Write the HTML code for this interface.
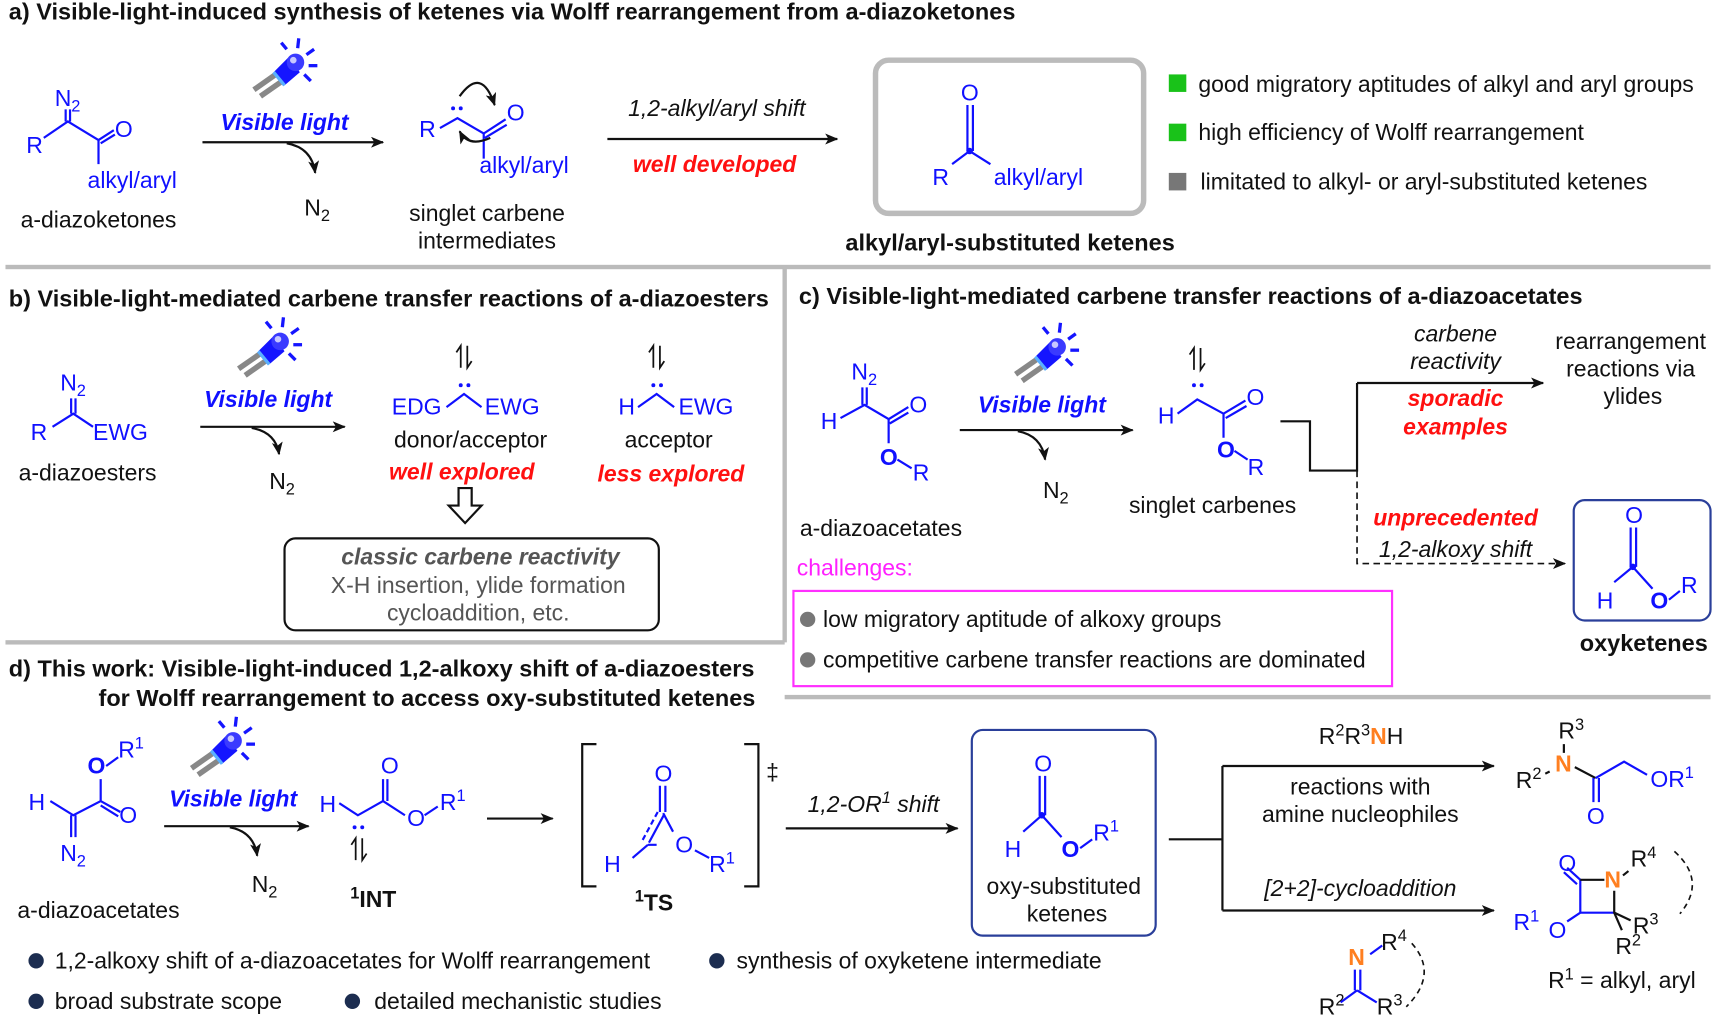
<!DOCTYPE html>
<html><head><meta charset="utf-8"><style>
html,body{margin:0;padding:0;background:#fff}
svg{display:block}
text{font-family:"Liberation Sans",Arial,sans-serif;font-size:21px;fill:#111}
.b{fill:#1010ff}.t{font-weight:bold;font-size:21.5px}
.red{fill:#ff1010;font-weight:bold;font-style:italic}
.vl{fill:#1010ff;font-weight:bold;font-style:italic}
.it{font-style:italic}
.o{fill:#ff7f20}
.bl{stroke:#1010ff;stroke-width:2;fill:none}
.k{stroke:#111;stroke-width:2;fill:none}
</style></head><body>
<svg width="1716" height="1021" viewBox="0 0 1568 933" preserveAspectRatio="none" xmlns="http://www.w3.org/2000/svg">
<defs>
<marker id="ar" viewBox="0 0 12 10" refX="11" refY="5" markerWidth="12" markerHeight="10" markerUnits="userSpaceOnUse" orient="auto"><path d="M0,0 L12,5 L0,10 L3,5z" fill="#111"/></marker>
<g id="lamp">
<line x1="-30" y1="22" x2="-10" y2="8" stroke="#888" stroke-width="5"/>
<line x1="-24" y1="28" x2="-4" y2="14" stroke="#888" stroke-width="5"/>
<path d="M-12,6 L2,-8 L12,6 L-2,18z" fill="#1515ff"/>
<line x1="-12" y1="6" x2="-2" y2="18" stroke="#5ab0ff" stroke-width="3"/>
<circle cx="8" cy="-3" r="8" fill="#3a3aff"/><circle cx="6" cy="-5" r="3" fill="#c8c8ff"/>
<g stroke="#1515ff" stroke-width="3"><line x1="0" y1="-15" x2="-5" y2="-21"/><line x1="10" y1="-16" x2="11" y2="-25"/><line x1="18" y1="-10" x2="25" y2="-15"/><line x1="20" y1="0" x2="28" y2="0"/><line x1="16" y1="8" x2="22" y2="14"/></g>
</g>
<g id="spin" stroke="#111" stroke-width="1.6" fill="none">
<path d="M-3,10 L-3,-10 L-7,-4"/><path d="M3,-10 L3,10 L7,4"/>
</g>
</defs>

<!-- a -->
<text x="8" y="18" class="t">a) Visible-light-induced synthesis of ketenes via Wolff rearrangement from a-diazoketones</text>
<text x="50" y="97" class="b">N<tspan font-size="15" dy="5">2</tspan></text>
<path class="bl" d="M40,126 L62,111 L90,128 L104,119 M60,100 L60,111 M64,100 L64,111 M90,128 L90,150 M92,131 L105,123"/>
<text x="24" y="140" class="b">R</text><text x="105" y="125" class="b">O</text>
<text x="80" y="172" class="b">alkyl/aryl</text>
<text x="90" y="208" text-anchor="middle">a-diazoketones</text>
<use href="#lamp" x="262" y="60"/>
<text x="260" y="119" class="vl" text-anchor="middle">Visible light</text>
<line x1="185" y1="130" x2="350" y2="130" class="k" marker-end="url(#ar)"/>
<path class="k" d="M262,131 Q285,135 288,158" marker-end="url(#ar)"/>
<text x="278" y="197">N<tspan font-size="15" dy="5">2</tspan></text>
<text x="383" y="125" class="b">R</text>
<path class="bl" d="M402,117 L418,108 L442,122 L462,109 M443,126 L463,114 M442,122 L442,145"/>
<circle cx="414" cy="99" r="1.8" fill="#1010ff"/><circle cx="421" cy="99" r="1.8" fill="#1010ff"/>
<text x="463" y="110" class="b">O</text><text x="438" y="158" class="b">alkyl/aryl</text>
<path class="k" d="M420,88 Q440,60 452,96" marker-end="url(#ar)"/>
<path class="k" d="M448,126 Q428,135 420,120" marker-end="url(#ar)"/>
<text x="445" y="202" text-anchor="middle">singlet carbene</text>
<text x="445" y="227" text-anchor="middle">intermediates</text>
<text x="655" y="106" class="it" text-anchor="middle">1,2-alkyl/aryl shift</text>
<line x1="555" y1="127" x2="765" y2="127" class="k" marker-end="url(#ar)"/>
<text x="653" y="157" class="red" text-anchor="middle">well developed</text>
<rect x="800" y="55" width="245" height="140" rx="12" fill="none" stroke="#bbb" stroke-width="5"/>
<text x="878" y="92" class="b">O</text>
<path class="bl" d="M884,96 L884,138 M889,96 L889,138 M886,138 L870,150 M886,138 L905,150"/>
<circle cx="886" cy="138" r="3" fill="#1010ff"/>
<text x="852" y="169" class="b">R</text><text x="908" y="169" class="b">alkyl/aryl</text>
<text x="923" y="229" class="t" text-anchor="middle">alkyl/aryl-substituted ketenes</text>
<rect x="1068" y="68" width="16" height="16" fill="#19c219"/><text x="1095" y="84">good migratory aptitudes of alkyl and aryl groups</text>
<rect x="1068" y="113" width="16" height="16" fill="#19c219"/><text x="1095" y="128">high efficiency of Wolff rearrangement</text>
<rect x="1068" y="158" width="16" height="16" fill="#777"/><text x="1097" y="173">limitated to alkyl- or aryl-substituted ketenes</text>
<rect x="5" y="242" width="1558" height="4" fill="#bbb"/>

<!-- b -->
<rect x="715" y="244" width="4" height="343" fill="#bbb"/>
<rect x="5" y="585" width="712" height="4" fill="#bbb"/>
<text x="8" y="280" class="t">b) Visible-light-mediated carbene transfer reactions of a-diazoesters</text>
<text x="55" y="357" class="b">N<tspan font-size="15" dy="5">2</tspan></text>
<path class="bl" d="M65,364 L65,378 M69,364 L69,378 M48,390 L67,378 L85,390"/>
<text x="28" y="402" class="b">R</text><text x="85" y="402" class="b">EWG</text>
<text x="80" y="439" text-anchor="middle">a-diazoesters</text>
<use href="#lamp" x="248" y="315"/>
<text x="245" y="372" class="vl" text-anchor="middle">Visible light</text>
<line x1="183" y1="390" x2="315" y2="390" class="k" marker-end="url(#ar)"/>
<path class="k" d="M230,391 Q252,395 255,415" marker-end="url(#ar)"/>
<text x="246" y="447">N<tspan font-size="15" dy="5">2</tspan></text>
<use href="#spin" x="424" y="326"/>
<circle cx="421" cy="352" r="1.8" fill="#1010ff"/><circle cx="428" cy="352" r="1.8" fill="#1010ff"/>
<text x="358" y="379" class="b">EDG</text><path class="bl" d="M408,372 L424,360 L440,372"/><text x="443" y="379" class="b">EWG</text>
<text x="430" y="409" text-anchor="middle">donor/acceptor</text>
<text x="422" y="438" class="red" text-anchor="middle">well explored</text>
<use href="#spin" x="600" y="326"/>
<circle cx="597" cy="352" r="1.8" fill="#1010ff"/><circle cx="604" cy="352" r="1.8" fill="#1010ff"/>
<text x="565" y="379" class="b">H</text><path class="bl" d="M583,372 L600,360 L616,372"/><text x="620" y="379" class="b">EWG</text>
<text x="611" y="409" text-anchor="middle">acceptor</text>
<text x="613" y="440" class="red" text-anchor="middle">less explored</text>
<path d="M419,446 L431,446 L431,462 L440,462 L425,478 L410,462 L419,462z" fill="#fff" stroke="#111" stroke-width="2"/>
<rect x="260" y="492" width="342" height="84" rx="10" fill="none" stroke="#111" stroke-width="2"/>
<text x="439" y="516" text-anchor="middle" font-weight="bold" font-style="italic" style="fill:#555">classic carbene reactivity</text>
<text x="437" y="542" text-anchor="middle" style="fill:#555">X-H insertion, ylide formation</text>
<text x="437" y="567" text-anchor="middle" style="fill:#555">cycloaddition, etc.</text>

<!-- c -->
<text x="730" y="278" class="t">c) Visible-light-mediated carbene transfer reactions of a-diazoacetates</text>
<text x="778" y="347" class="b">N<tspan font-size="15" dy="5">2</tspan></text>
<path class="bl" d="M788,354 L788,370 M792,354 L792,370 M768,382 L790,370 L812,383 L830,372 M812,383 L812,405 M813,387 L830,377"/>
<text x="750" y="392" class="b">H</text><text x="831" y="377" class="b">O</text>
<text x="804" y="425" class="b" font-weight="bold">O</text><path class="bl" d="M820,420 L833,428"/><text x="834" y="439" class="b">R</text>
<text x="805" y="490" text-anchor="middle">a-diazoacetates</text>
<use href="#lamp" x="958" y="320"/>
<text x="952" y="377" class="vl" text-anchor="middle">Visible light</text>
<line x1="877" y1="393" x2="1035" y2="393" class="k" marker-end="url(#ar)"/>
<path class="k" d="M930,394 Q952,398 955,420" marker-end="url(#ar)"/>
<text x="953" y="455">N<tspan font-size="15" dy="5">2</tspan></text>
<use href="#spin" x="1094" y="328"/>
<circle cx="1091" cy="352" r="1.8" fill="#1010ff"/><circle cx="1098" cy="352" r="1.8" fill="#1010ff"/>
<text x="1058" y="387" class="b">H</text>
<path class="bl" d="M1076,378 L1094,365 L1118,378 L1138,366 M1118,378 L1118,400 M1120,382 L1139,371"/>
<text x="1139" y="370" class="b">O</text>
<text x="1112" y="418" class="b" font-weight="bold">O</text><path class="bl" d="M1128,412 L1140,420"/><text x="1140" y="434" class="b">R</text>
<text x="1108" y="469" text-anchor="middle">singlet carbenes</text>
<path class="k" d="M1170,385 L1197,385 L1197,430 L1240,430 L1240,350"/>
<line x1="1240" y1="350" x2="1410" y2="350" class="k" marker-end="url(#ar)"/>
<path d="M1240,430 L1240,515 L1430,515" fill="none" stroke="#111" stroke-width="1.5" stroke-dasharray="6,4" marker-end="url(#ar)"/>
<text x="1330" y="312" class="it" text-anchor="middle">carbene</text>
<text x="1330" y="337" class="it" text-anchor="middle">reactivity</text>
<text x="1330" y="371" class="red" text-anchor="middle">sporadic</text>
<text x="1330" y="397" class="red" text-anchor="middle">examples</text>
<text x="1490" y="319" text-anchor="middle">rearrangement</text>
<text x="1490" y="344" text-anchor="middle">reactions via</text>
<text x="1492" y="369" text-anchor="middle">ylides</text>
<text x="1330" y="480" class="red" text-anchor="middle">unprecedented</text>
<text x="1330" y="509" class="it" text-anchor="middle">1,2-alkoxy shift</text>
<rect x="1438" y="457" width="125" height="110" rx="10" fill="none" stroke="#2a3f9a" stroke-width="2"/>
<text x="1485" y="478" class="b">O</text>
<path class="bl" d="M1490,482 L1490,518 M1495,482 L1495,518 M1492,518 L1475,532 M1492,518 L1510,538"/>
<circle cx="1492" cy="518" r="3" fill="#1010ff"/>
<text x="1459" y="556" class="b">H</text><text x="1508" y="556" class="b" font-weight="bold">O</text>
<path class="bl" d="M1525,548 L1535,540"/><text x="1536" y="542" class="b">R</text>
<text x="1502" y="595" text-anchor="middle" class="t">oxyketenes</text>
<text x="728" y="526" style="fill:#ff20ff">challenges:</text>
<rect x="725" y="540" width="547" height="87" fill="none" stroke="#ff30ff" stroke-width="2"/>
<circle cx="738" cy="566" r="7" fill="#777"/><text x="752" y="573">low migratory aptitude of alkoxy groups</text>
<circle cx="738" cy="603" r="7" fill="#777"/><text x="752" y="610">competitive carbene transfer reactions are dominated</text>
<rect x="717" y="635" width="846" height="4" fill="#bbb"/>

<!-- d -->
<text x="8" y="618" class="t">d) This work: Visible-light-induced 1,2-alkoxy shift of a-diazoesters</text>
<text x="90" y="645" class="t">for Wolff rearrangement to access oxy-substituted ketenes</text>
<text x="80" y="707" class="b" font-weight="bold">O</text><path class="bl" d="M97,700 L108,692"/><text x="108" y="692" class="b">R<tspan font-size="15" dy="-8">1</tspan></text>
<path class="bl" d="M46,732 L67,745 L92,732 L92,712 M92,732 L110,742 M92,736 L108,746 M65,745 L65,765 M69,745 L69,765"/>
<text x="26" y="740" class="b">H</text><text x="109" y="752" class="b">O</text>
<text x="55" y="787" class="b">N<tspan font-size="15" dy="5">2</tspan></text>
<text x="90" y="839" text-anchor="middle">a-diazoacetates</text>
<use href="#lamp" x="205" y="680"/>
<text x="213" y="737" class="vl" text-anchor="middle">Visible light</text>
<line x1="150" y1="755" x2="282" y2="755" class="k" marker-end="url(#ar)"/>
<path class="k" d="M210,756 Q232,760 235,782" marker-end="url(#ar)"/>
<text x="230" y="815">N<tspan font-size="15" dy="5">2</tspan></text>
<text x="292" y="742" class="b">H</text>
<path class="bl" d="M310,734 L327,745 L350,732 L350,712 M354,732 L354,712 M350,732 L370,745"/>
<circle cx="324" cy="756" r="1.8" fill="#1010ff"/><circle cx="331" cy="756" r="1.8" fill="#1010ff"/>
<text x="348" y="707" class="b">O</text><text x="372" y="755" class="b">O</text>
<path class="bl" d="M388,745 L400,737"/><text x="402" y="740" class="b">R<tspan font-size="15" dy="-8">1</tspan></text>
<use href="#spin" x="328" y="776"/>
<text x="320" y="829" font-weight="bold"><tspan font-size="15" dy="-8">1</tspan><tspan dy="8">INT</tspan></text>
<line x1="445" y1="748" x2="505" y2="748" class="k" marker-end="url(#ar)"/>
<path class="k" d="M545,680 L532,680 L532,810 L545,810 M680,680 L693,680 L693,810 L680,810"/>
<text x="700" y="713" font-size="16">‡</text>
<text x="598" y="714" class="b">O</text>
<path class="bl" d="M603,718 L603,742 M608,718 L608,742 M606,743 L615,760 M592,772 L600,772 M578,784 L592,772"/>
<path d="M601,742 L587,768" stroke="#1010ff" stroke-width="2" stroke-dasharray="5,3"/>
<path class="bl" d="M607,744 L593,770"/>
<text x="552" y="797" class="b">H</text><text x="617" y="779" class="b">O</text>
<path class="bl" d="M635,777 L648,784"/><text x="648" y="797" class="b">R<tspan font-size="15" dy="-8">1</tspan></text>
<text x="580" y="832" font-weight="bold"><tspan font-size="15" dy="-8">1</tspan><tspan dy="8">TS</tspan></text>
<text x="738" y="742" class="it">1,2-OR<tspan font-size="15" dy="-8">1</tspan><tspan dy="8"> shift</tspan></text>
<line x1="718" y1="757" x2="875" y2="757" class="k" marker-end="url(#ar)"/>
<rect x="888" y="667" width="168" height="188" rx="10" fill="none" stroke="#2a3f9a" stroke-width="2"/>
<text x="945" y="705" class="b">O</text>
<path class="bl" d="M950,709 L950,745 M955,709 L955,745 M952,745 L935,760 M952,745 L970,765"/>
<circle cx="952" cy="745" r="3" fill="#1010ff"/>
<text x="918" y="783" class="b">H</text><text x="970" y="783" class="b" font-weight="bold">O</text>
<path class="bl" d="M987,775 L998,767"/><text x="999" y="768" class="b">R<tspan font-size="15" dy="-8">1</tspan></text>
<text x="972" y="817" text-anchor="middle">oxy-substituted</text>
<text x="975" y="842" text-anchor="middle">ketenes</text>
<path class="k" d="M1068,767 L1117,767 M1117,700 L1117,832"/>
<line x1="1117" y1="700" x2="1365" y2="700" class="k" marker-end="url(#ar)"/>
<line x1="1117" y1="832" x2="1365" y2="832" class="k" marker-end="url(#ar)"/>
<text x="1205" y="680">R<tspan font-size="15" dy="-8">2</tspan><tspan dy="8">R</tspan><tspan font-size="15" dy="-8">3</tspan><tspan dy="8" class="o" font-weight="bold">N</tspan>H</text>
<text x="1243" y="726" text-anchor="middle">reactions with</text>
<text x="1243" y="751" text-anchor="middle">amine nucleophiles</text>
<text x="1243" y="819" class="it" text-anchor="middle">[2+2]-cycloaddition</text>
<text x="1232" y="882" class="o" font-weight="bold">N</text>
<path class="bl" d="M1252,872 L1263,864 M1238,886 L1238,905 M1243,886 L1243,905 M1240,905 L1225,916 M1240,905 L1258,916"/>
<text x="1262" y="868">R<tspan font-size="15" dy="-8">4</tspan></text>
<text x="1205" y="927">R<tspan font-size="15" dy="-8">2</tspan></text><text x="1258" y="927">R<tspan font-size="15" dy="-8">3</tspan></text>
<path d="M1290,862 Q1315,890 1285,920" fill="none" stroke="#111" stroke-width="1.5" stroke-dasharray="5,4"/>
<!-- amide -->
<text x="1424" y="675">R<tspan font-size="15" dy="-8">3</tspan></text>
<text x="1421" y="705" class="o" font-weight="bold">N</text>
<text x="1385" y="720">R<tspan font-size="15" dy="-8">2</tspan></text>
<path class="k" d="M1429,680 L1429,688 M1412,707 L1416,705"/>
<path class="k" d="M1439,701 L1458,711"/>
<path class="bl" d="M1458,711 L1484,696 L1505,708 M1456,711 L1456,733 M1461,711 L1461,733"/>
<text x="1450" y="753" class="b">O</text>
<text x="1508" y="719" class="b">OR<tspan font-size="15" dy="-8">1</tspan></text>
<!-- lactam -->
<text x="1424" y="796" class="b">O</text>
<path class="bl" d="M1444,804 L1444,834 L1475,834 M1444,804 L1432,793 M1441,808 L1429,797 M1444,834 L1432,842"/>
<path class="k" d="M1444,804 L1466,804 M1475,814 L1475,834 L1490,841 M1475,834 L1482,850 M1483,800 L1488,796"/>
<text x="1466" y="811" class="o" font-weight="bold">N</text>
<text x="1490" y="792">R<tspan font-size="15" dy="-8">4</tspan></text>
<text x="1415" y="857" class="b">O</text>
<text x="1383" y="850" class="b">R<tspan font-size="15" dy="-8">1</tspan></text>
<text x="1492" y="853">R<tspan font-size="15" dy="-8">3</tspan></text>
<text x="1476" y="872">R<tspan font-size="15" dy="-8">2</tspan></text>
<path d="M1530,778 Q1560,805 1535,835" fill="none" stroke="#111" stroke-width="1.5" stroke-dasharray="5,4"/>
<text x="1482" y="903" text-anchor="middle">R<tspan font-size="15" dy="-8">1</tspan><tspan dy="8"> = alkyl, aryl</tspan></text>
<circle cx="33" cy="878" r="7" fill="#1c2d50"/><text x="50" y="885">1,2-alkoxy shift of a-diazoacetates for Wolff rearrangement</text>
<circle cx="655" cy="878" r="7" fill="#1c2d50"/><text x="673" y="885">synthesis of oxyketene intermediate</text>
<circle cx="33" cy="915" r="7" fill="#1c2d50"/><text x="50" y="922">broad substrate scope</text>
<circle cx="322" cy="915" r="7" fill="#1c2d50"/><text x="342" y="922">detailed mechanistic studies</text>
</svg>
</body></html>
